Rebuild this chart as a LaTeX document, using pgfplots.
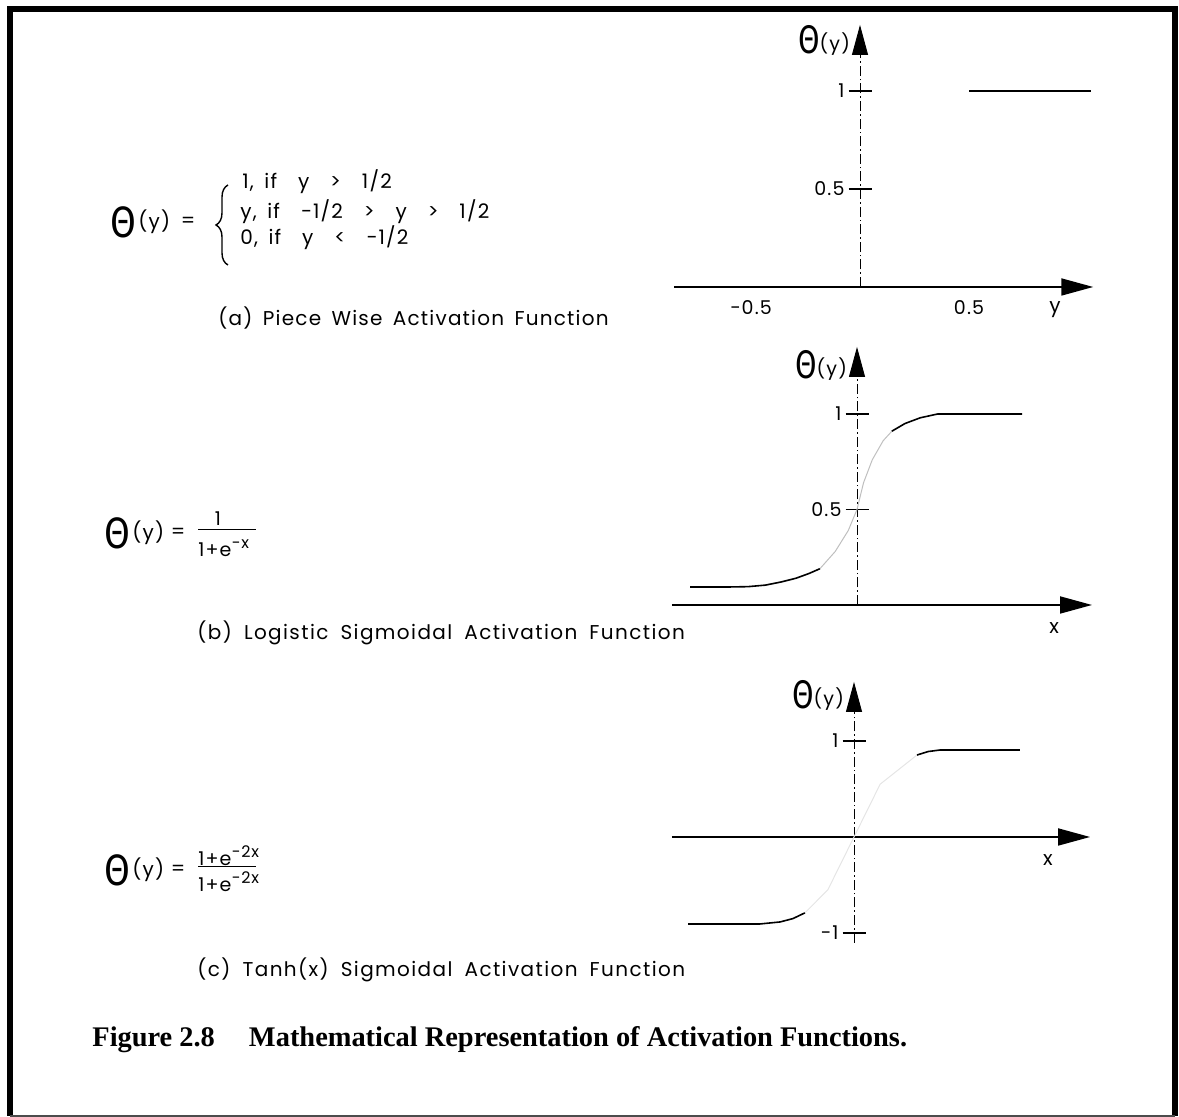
\documentclass[border=0pt]{standalone}
\usepackage{fontspec}
\usepackage{graphicx}
\usepackage{pgfplots}
\pgfplotsset{compat=1.18}
\usetikzlibrary{arrows.meta,decorations.pathreplacing}
\setmainfont{Liberation Serif}
\newfontfamily\gfont[LetterSpace=6,WordSpace=1.6]{Poppins}
\newfontfamily\capfont[LetterSpace=7,WordSpace=1.8]{Poppins}
\newfontfamily\thetafont{Fira Sans}
% narrow theta used in the formulas and on the axes
\newcommand\bigtheta[2]{{\thetafont\fontsize{#1}{#1}\selectfont\scalebox{#2}[1]{Θ}}}
\newcommand\thetay{\bigtheta{20}{0.78}{\gfont\fontsize{9.5}{10}\selectfont\raisebox{1.5pt}{(y)}}}
\newcommand\txt{\gfont\fontsize{10}{12}\selectfont}
\newcommand\frt{\gfont\fontsize{9.5}{10}\selectfont}
\newcommand\sups[1]{\raisebox{4pt}{\fontsize{8}{8}\selectfont #1}}

\pgfplotsset{
  actfn/.style={
    axis lines=middle,
    x=109pt, clip=false, anchor=origin,
    axis line style={line width=0.9pt},
    x axis line style={-{Triangle[length=16pt,width=8.5pt]}},
    y axis line style={line width=0.45pt,
      dash pattern=on 5pt off 1.5pt on 0.8pt off 1.5pt,
      -{Triangle[length=15pt,width=8pt]}},
    xtick style={draw=none},
    ytick style={line width=0.7pt, black},
    ytick align=center,
    major tick length=11.5pt,
    /pgf/number format/assume math mode=true,
    every tick label/.append style={font=\gfont\fontsize{9.5}{10}\selectfont},
    yticklabel style={anchor=east, xshift=1.5pt},
    xticklabel style={anchor=north, yshift=2.5pt},
  },
  curve/.style={black, line width=0.8pt, no markers},
  faint/.style={black!25, line width=0.5pt, no markers},
}

\begin{document}
\begin{tikzpicture}[x=0.5pt,y=0.5pt]
% frame
\draw[line width=2.6pt] (10,1) -- (10,1108) -- (1175,1108) -- (1175,1);
\draw[line width=0.6pt, black!70] (10,1) -- (1175,1);

% (a) piecewise activation
\begin{axis}[actfn, at={(430pt,415pt)}, y=98pt,
  xmin=-0.853, xmax=1.07, ymin=0, ymax=1.337,
  xtick={-0.5,0.5}, xticklabels={−0.5,0.5},
  ytick={0.5,1}, yticklabels={0.5,1},
  xlabel={y}, ylabel={\thetay},
  every axis x label/.style={at={(axis description cs:0.9085,0)}, anchor=center, yshift=-11.5pt, font=\txt},
  every axis y label/.style={at={(axis description cs:0.4436,0.942)}, anchor=east, xshift=-1.5pt}]
\addplot[curve] coordinates {(0.5,1) (1.06,1)};
\end{axis}

% (b) logistic sigmoid
\begin{axis}[actfn, at={(428.5pt,256pt)}, y=95.5pt,
  xmin=-0.849, xmax=1.078, ymin=0, ymax=1.351,
  xtick=\empty, ytick={0.5,1}, yticklabels={0.5,1},
  xlabel={x}, ylabel={\thetay},
  every axis x label/.style={at={(axis description cs:0.9097,0)}, anchor=center, yshift=-11.5pt, font=\txt},
  every axis y label/.style={at={(axis description cs:0.4406,0.930)}, anchor=east, xshift=-1.5pt}]
\addplot[curve] coordinates {(-0.766,0.094) (-0.60,0.094) (-0.50,0.096) (-0.42,0.104)
  (-0.35,0.12) (-0.28,0.14) (-0.22,0.165) (-0.17,0.19)};
\addplot[faint] coordinates {(-0.17,0.19) (-0.10,0.28) (-0.04,0.39) (0,0.5)
  (0.03,0.64) (0.07,0.76) (0.12,0.86) (0.16,0.91)};
\addplot[curve] coordinates {(0.16,0.91) (0.22,0.95) (0.29,0.98) (0.37,1.0) (0.757,1.0)};
\end{axis}

% (c) tanh sigmoid
\begin{axis}[actfn, at={(427pt,140pt)}, y=48pt,
  xmin=-0.835, xmax=1.083, ymin=-1.1, ymax=1.615,
  xtick=\empty, ytick={-1,1}, yticklabels={−1,1},
  xlabel={x}, ylabel={\thetay},
  every axis x label/.style={at={(axis description cs:0.899,0.405)}, anchor=center, yshift=-11.5pt, font=\txt},
  every axis y label/.style={at={(axis description cs:0.4353,0.950)}, anchor=east, xshift=-1.5pt}]
\addplot[curve] coordinates {(-0.761,-0.906) (-0.431,-0.906) (-0.339,-0.885) (-0.28,-0.85) (-0.225,-0.79)};
\addplot[faint, black!10] coordinates {(-0.225,-0.79) (-0.12,-0.55) (0,0) (0.12,0.55) (0.289,0.854)};
\addplot[curve] coordinates {(0.289,0.854) (0.34,0.89) (0.394,0.906) (0.761,0.906)};
\end{axis}

% formulas and sub-captions
\node at (123,895) {\bigtheta{22}{0.85}};
\node[anchor=west, font=\txt, inner xsep=0pt] at (138,895) {(y)};
\node[font=\txt] at (188,895) {=};
\draw[line width=0.7pt, decorate, decoration={brace, amplitude=6pt}] (228,852) -- (228,932);
\node[anchor=west, font=\txt, inner xsep=0pt] at (242,935) {1,\ if\ \ y\ \ >\ \ 1/2};
\node[anchor=west, font=\txt, inner xsep=0pt] at (240,905) {y,\ if\ \ −1/2\ \ >\ \ y\ \ >\ \ 1/2};
\node[anchor=west, font=\txt, inner xsep=0pt] at (240,879) {0,\ if\ \ y\ \ <\ \ −1/2};
\node[anchor=west, font=\txt, inner xsep=0pt] at (218,799) {(a)\ Piece\ Wise\ Activation\ Function};

\node at (117,584) {\bigtheta{22}{0.85}};
\node[anchor=west, font=\txt, inner xsep=0pt] at (132,584) {(y)};
\node[font=\txt] at (178,584) {=};
\node[font=\frt] at (218,598) {1};
\draw[line width=0.5pt] (198,587) -- (256,587);
\node[anchor=west, font=\frt, inner xsep=0pt] at (198,569) {1+e\sups{−x}};
\node[anchor=west, font=\capfont\fontsize{10}{12}\selectfont, inner xsep=0pt] at (197,484) {(b)\ Logistic\ Sigmoidal\ Activation\ Function};

\node at (117,247) {\bigtheta{22}{0.85}};
\node[anchor=west, font=\txt, inner xsep=0pt] at (132,247) {(y)};
\node[font=\txt] at (178,247) {=};
\node[anchor=west, font=\frt, inner xsep=0pt] at (198,261) {1+e\sups{−2x}};
\draw[line width=0.5pt] (198,250) -- (256,250);
\node[anchor=west, font=\frt, inner xsep=0pt] at (198,235) {1+e\sups{−2x}};
\node[anchor=west, font=\capfont\fontsize{10}{12}\selectfont, inner xsep=0pt] at (197,147) {(c)\ Tanh(x)\ Sigmoidal\ Activation\ Function};

% figure caption
\node[anchor=west, font=\bfseries\fontsize{14.2}{16}\selectfont, inner xsep=0pt] at (92,77)
  {Figure 2.8\hspace{1.2em}Mathematical Representation of Activation Functions.};

\pgfresetboundingbox
\path[use as bounding box] (0,0) rectangle (1179,1117);
\end{tikzpicture}
\end{document}
